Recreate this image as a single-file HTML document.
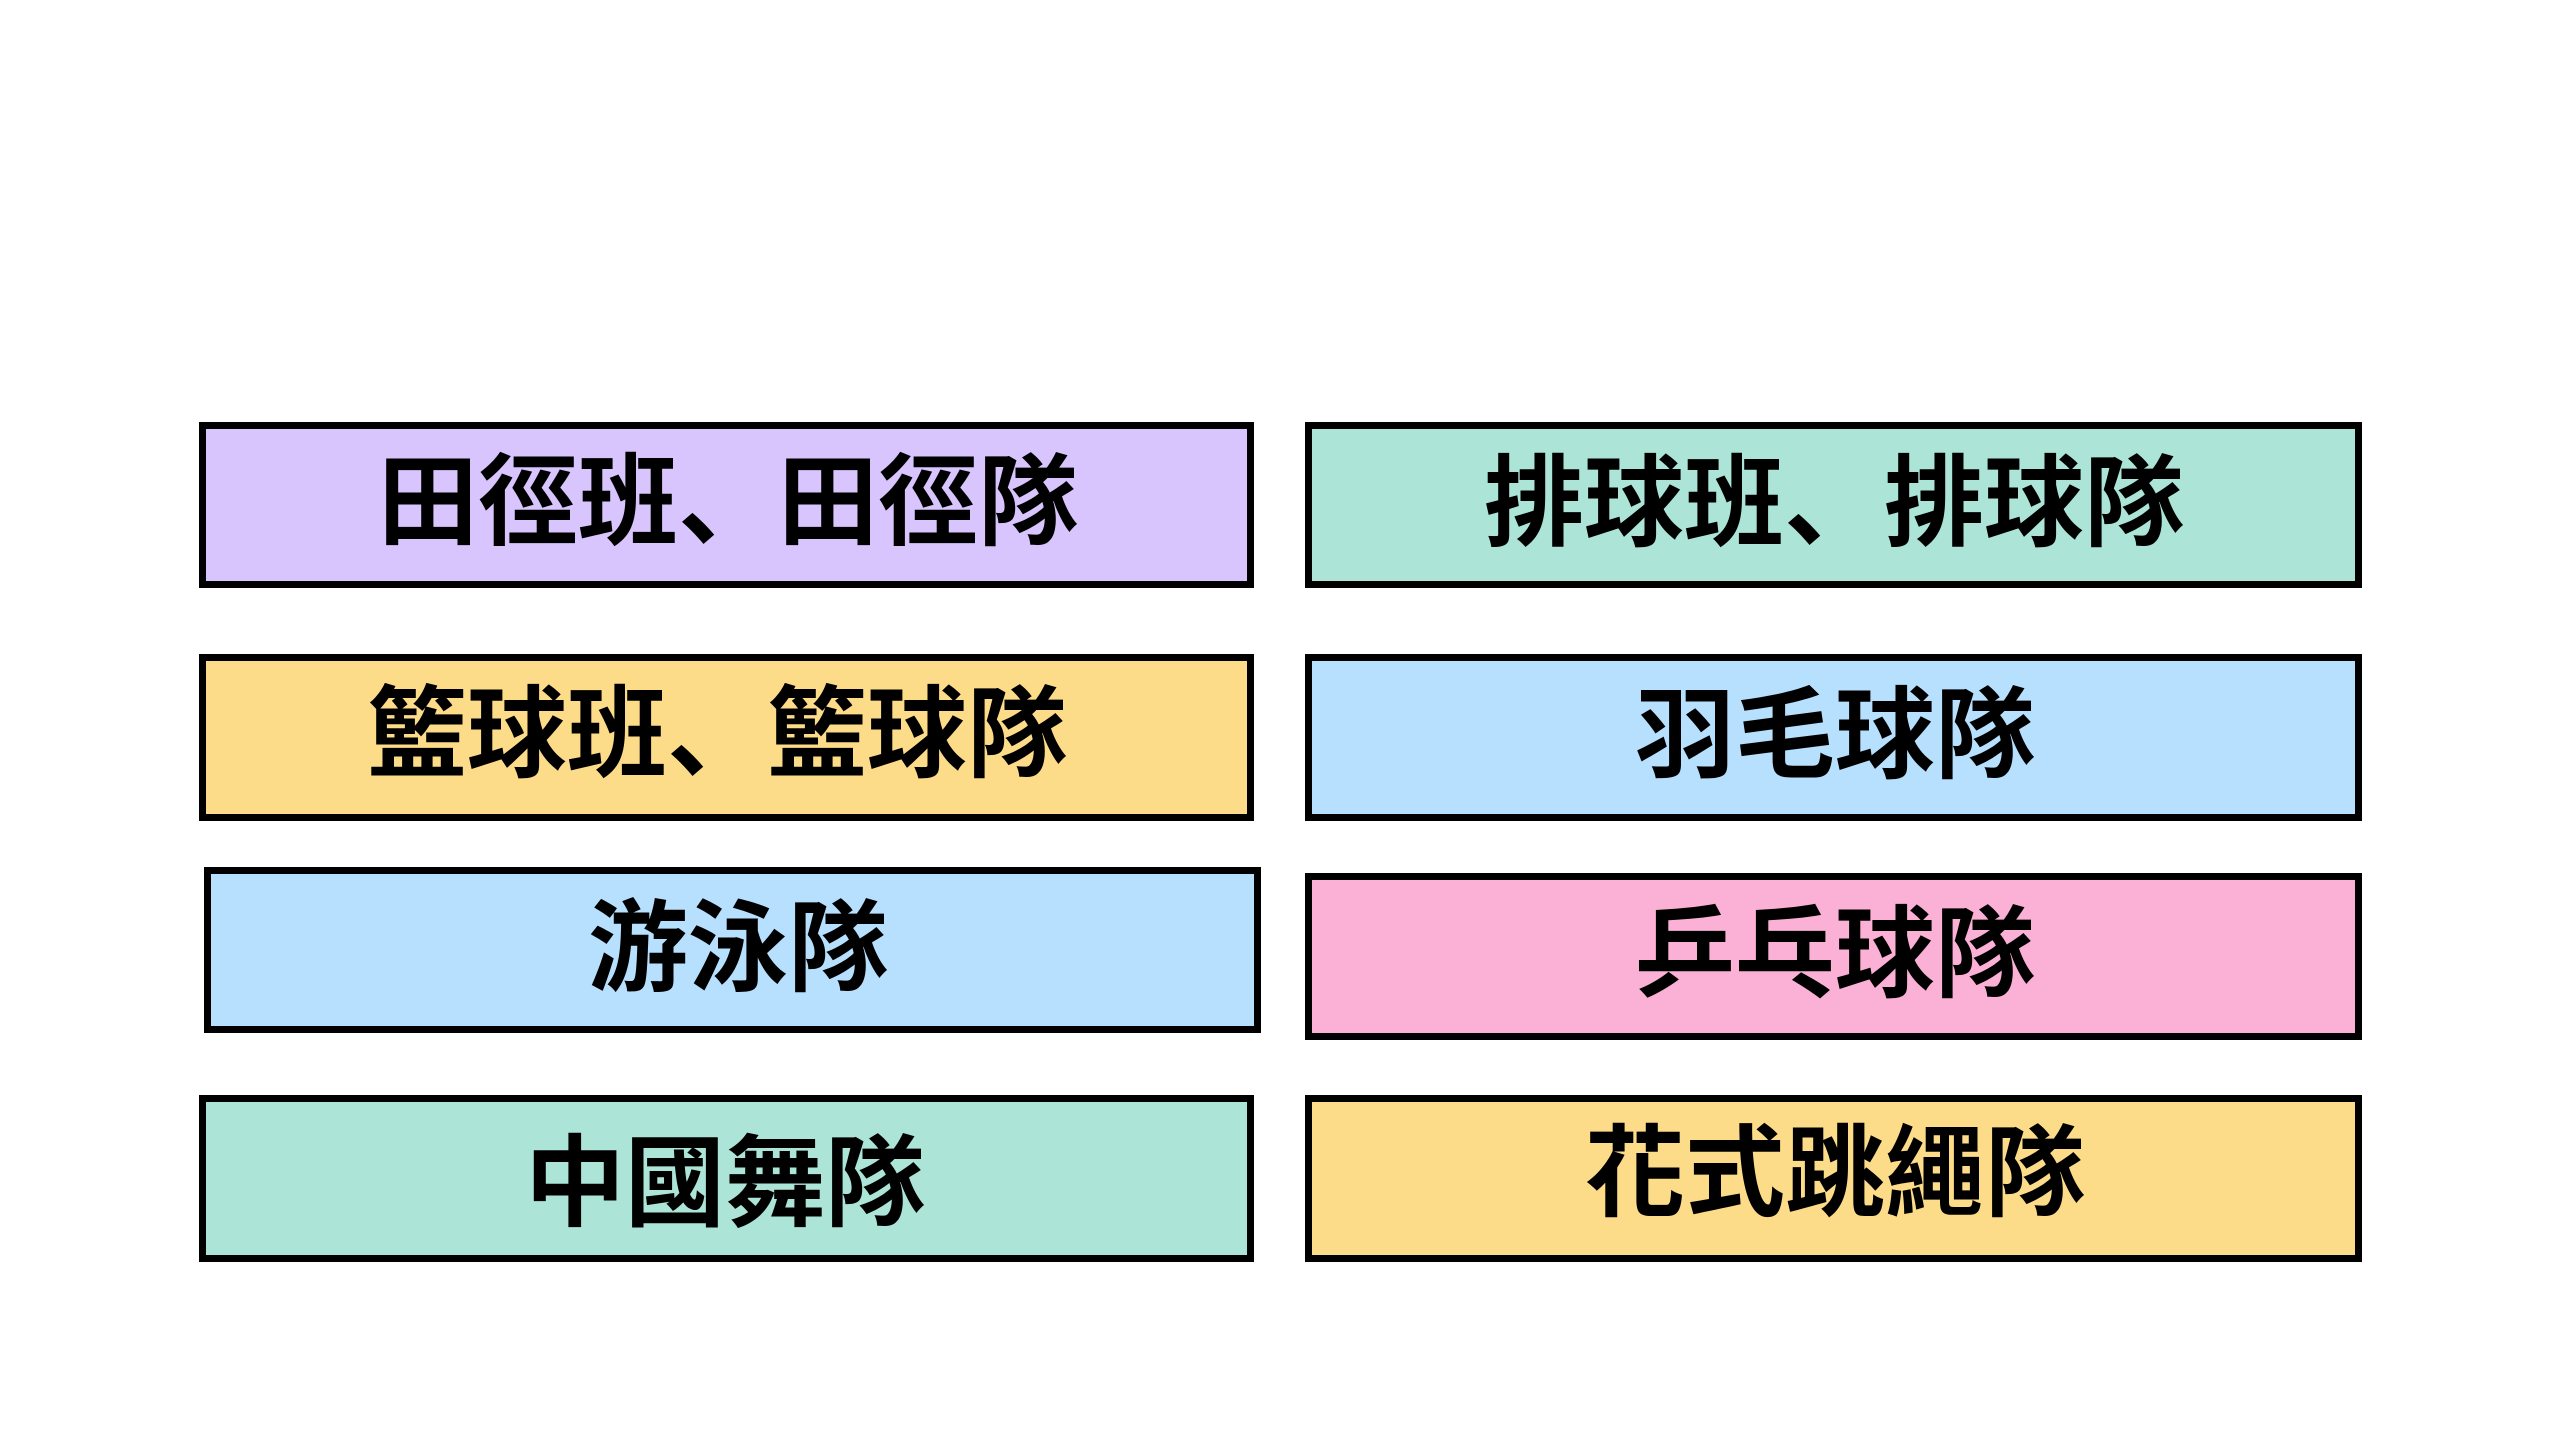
<!DOCTYPE html>
<html>
<head>
<meta charset="utf-8">
<style>
  html, body { margin:0; padding:0; }
  body { width:2560px; height:1440px; background:#ffffff; position:relative; overflow:hidden; }
  .box { position:absolute; box-sizing:border-box; border:7px solid #000; }
  .t { position:absolute; width:1000px; text-align:center; font-family:"Liberation Sans","Noto Sans CJK TC",sans-serif; font-weight:700; font-size:100px; line-height:100px; color:#000; white-space:nowrap; }
  .p { font-family:"Liberation Sans","Noto Sans CJK SC",sans-serif; }
</style>
</head>
<body>
<!-- left column -->
<div class="box" style="left:199px;top:422px;width:1055px;height:166px;background:#d8c5fd;"></div>
<div class="t" style="left:228px;top:453px;">田徑班<span class="p">、</span>田徑隊</div>

<div class="box" style="left:199px;top:654px;width:1055px;height:167px;background:#fddc89;"></div>
<div class="t" style="left:217px;top:685px;">籃球班<span class="p">、</span>籃球隊</div>

<div class="box" style="left:204px;top:867px;width:1057px;height:166px;background:#b6e0fe;"></div>
<div class="t" style="left:238px;top:899px;">游泳隊</div>

<div class="box" style="left:199px;top:1095px;width:1055px;height:167px;background:#ace5d8;"></div>
<div class="t" style="left:225px;top:1134px;">中國舞隊</div>

<!-- right column -->
<div class="box" style="left:1305px;top:422px;width:1057px;height:166px;background:#ace5d8;"></div>
<div class="t" style="left:1334px;top:454px;">排球班<span class="p">、</span>排球隊</div>

<div class="box" style="left:1305px;top:654px;width:1057px;height:167px;background:#b6e0fe;"></div>
<div class="t" style="left:1335px;top:686px;">羽毛球隊</div>

<div class="box" style="left:1305px;top:873px;width:1057px;height:167px;background:#fbb1d5;"></div>
<div class="t" style="left:1335px;top:905px;">乒乓球隊</div>

<div class="box" style="left:1305px;top:1095px;width:1057px;height:167px;background:#fddc89;"></div>
<div class="t" style="left:1335px;top:1124px;">花式跳繩隊</div>
</body>
</html>
